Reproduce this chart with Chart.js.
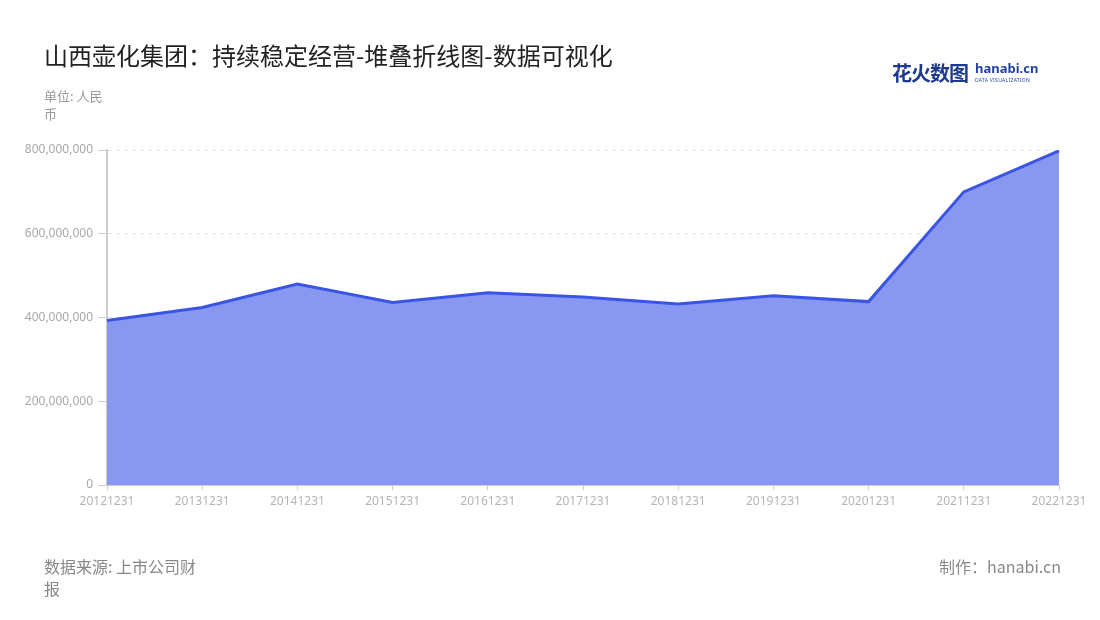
<!DOCTYPE html>
<html>
<head>
<meta charset="utf-8">
<script src="https://cdn.jsdelivr.net/npm/chart.js@4"></script>
<style>
  body { margin: 0; background: #fff; font-family: "Noto Sans CJK SC", "Noto Sans", sans-serif; }
  .wrap { position: relative; width: 1100px; height: 620px; }
  #myChart { position: absolute; left: 0; top: 0; }
  .title { position: absolute; left: 44px; top: 37px; font-size: 24px; color: #222; }
  .unit { position: absolute; left: 44px; top: 87px; font-size: 13px; line-height: 18px; color: #999; }
  .source { position: absolute; left: 44px; top: 555px; font-size: 16px; line-height: 22px; color: #888; }
  .maker { position: absolute; right: 39px; top: 555px; font-size: 16px; line-height: 22px; color: #888; }
  .logo { position: absolute; left: 892px; top: 58px; color: #1d3a8f; }
  .logo .cn { font-size: 20px; font-weight: bold; letter-spacing: -1px; }
  .logo .en { position: absolute; left: 83px; top: 1px; font-family: "Noto Sans", sans-serif; font-size: 13px; font-weight: bold; color: #2442a6; }
  .logo .sub { position: absolute; left: 83px; top: 19px; font-family: "Noto Sans", sans-serif; font-size: 5px; letter-spacing: 0.3px; color: #2442a6; white-space: nowrap; }
</style>
</head>
<body>
<div class="wrap">
  <canvas id="myChart" width="1100" height="620"></canvas>
  <div class="title">山西壶化集团：持续稳定经营-堆叠折线图-数据可视化</div>
  <div class="unit">单位: 人民<br>币</div>
  <div class="logo"><span class="cn">花火数图</span><span class="en">hanabi.cn</span><span class="sub">DATA VISUALIZATION</span></div>
  <div class="source">数据来源: 上市公司财<br>报</div>
  <div class="maker">制作：hanabi.cn</div>
</div>
<script>
// du lieu
const years = ['20121231', '20131231', '20141231', '20151231', '20161231', '20171231',
               '20181231', '20191231', '20201231', '20211231', '20221231'];
const revenue = [393000000, 424000000, 480000000, 436000000, 459000000, 449000000,
                 432000000, 452000000, 438000000, 700000000, 798000000];
const yTicks = [0, 200000000, 400000000, 600000000, 800000000];

const tickFont = { family: 'Noto Sans', size: 12 };

const config = {
  type: 'line',
  data: {
    labels: years,
    datasets: [{
      label: '营业收入',
      data: revenue,
      borderColor: '#3a55e6',
      backgroundColor: '#8898f1',
      borderWidth: 3,
      fill: 'origin',
      pointRadius: 0,
      tension: 0
    }]
  },
  options: {
    responsive: false,
    animation: false,
    layout: {
      padding: { left: 0, right: 41, top: 150, bottom: 105 }
    },
    plugins: {
      legend: { display: false },
      tooltip: { enabled: false }
    },
    scales: {
      x: {
        offset: false,
        grid: {
          drawOnChartArea: false,
          drawTicks: true,
          tickLength: 5,
          color: '#cccccc'
        },
        border: { color: '#cccccc', width: 1 },
        ticks: {
          color: '#b5b5b5',
          font: tickFont,
          maxRotation: 0,
          autoSkip: false,
          padding: 4
        },
        afterFit: (s) => { s.height = 30; }
      },
      y: {
        min: 0,
        max: 800000000,
        afterBuildTicks: (s) => { s.ticks = yTicks.map(v => ({ value: v })); },
        grid: {
          color: '#e4e4e4',
          tickColor: '#cccccc',
          tickLength: 9,
          tickBorderDash: [],
          drawTicks: true
        },
        border: { color: '#cccccc', width: 2, dash: [4, 4] },
        ticks: {
          color: '#a8a8a8',
          font: tickFont,
          padding: 5,
          callback: (v) => v.toLocaleString('en-US')
        },
        afterFit: (s) => { s.width = 107; }
      }
    }
  }
};

const ctx = document.getElementById('myChart').getContext('2d');
let myChart = new Chart(ctx, config);
</script>
</body>
</html>
